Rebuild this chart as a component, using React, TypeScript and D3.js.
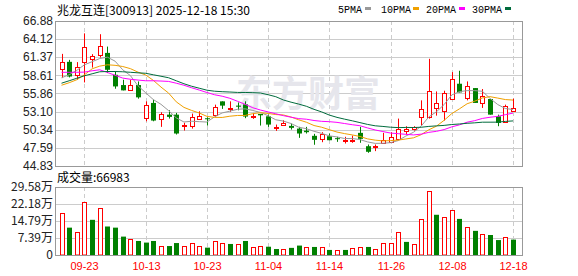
import React from 'react';
import * as d3 from 'd3';

const dates = [
  '09-18','09-19','09-22','09-23','09-24','09-25','09-26','09-29','09-30','10-09',
  '10-10','10-13','10-14','10-15','10-16','10-17','10-20','10-21','10-22','10-23',
  '10-24','10-27','10-28','10-29','10-30','10-31','11-03','11-04','11-05','11-06',
  '11-07','11-10','11-11','11-12','11-13','11-14','11-17','11-18','11-19','11-20',
  '11-21','11-24','11-25','11-26','11-27','11-28','12-01','12-02','12-03','12-04',
  '12-05','12-08','12-09','12-10','12-11','12-12','12-15','12-16','12-17','12-18',
];
const opens = [
  59.57,60.67,58.70,60.57,61.08,61.69,62.03,58.70,57.14,56.38,
  57.14,52.24,54.42,51.93,52.64,52.64,50.93,51.00,51.99,52.09,
  52.54,54.66,53.45,54.01,54.20,52.30,52.75,52.39,50.58,51.10,
  50.93,50.52,50.21,49.42,48.96,49.36,49.06,48.57,48.60,49.87,
  47.84,47.64,48.35,48.55,48.96,50.17,50.47,52.30,52.30,53.66,
  53.15,55.07,57.34,55.17,56.68,54.42,55.02,52.39,51.63,53.25,
];
const highs = [
  61.88,60.97,60.63,65.00,61.84,64.87,62.99,59.20,57.95,57.95,
  57.69,54.66,54.92,53.00,53.30,52.90,51.40,52.80,53.15,52.24,
  54.16,54.66,54.66,54.50,54.66,52.90,52.75,52.64,51.13,51.78,
  51.28,50.78,50.78,49.72,49.97,49.77,49.27,49.27,49.45,50.78,
  48.10,48.10,49.87,49.97,52.04,50.88,50.88,54.81,61.13,56.17,
  56.28,59.11,59.31,57.69,56.68,56.53,55.02,52.64,54.16,55.07,
];
const lows = [
  58.20,58.30,57.95,57.54,59.80,61.32,58.96,56.58,56.33,56.38,
  55.07,51.63,51.63,50.78,52.04,49.62,50.22,50.52,51.87,50.98,
  52.30,53.51,53.06,53.30,52.10,52.00,50.98,50.78,50.17,50.98,
  50.37,49.11,49.77,48.06,48.45,48.75,48.50,48.25,48.36,48.36,
  46.84,47.09,48.25,48.45,48.75,49.62,50.22,50.98,52.04,52.49,
  51.74,54.92,56.02,54.81,54.42,53.66,52.64,50.88,51.63,53.15,
];
const closes = [
  60.63,58.44,59.96,62.90,61.53,63.05,59.46,56.93,56.33,57.14,
  55.27,54.16,51.74,52.75,52.30,49.77,51.05,52.30,52.45,51.99,
  53.75,54.01,53.65,53.85,52.35,52.50,52.54,51.13,50.78,51.35,
  50.63,49.77,49.97,48.81,49.77,48.75,48.96,48.75,48.80,48.96,
  46.99,47.84,48.85,49.27,50.52,50.45,50.73,53.51,56.28,54.42,
  55.93,58.05,56.02,57.04,54.42,55.42,52.64,51.38,54.01,53.66,
];
// volume in 万
const volumes = [
  18.2,11.9,9.9,23.0,15.3,20.4,12.4,11.9,8.0,7.0,
  6.1,5.4,6.1,3.9,3.9,5.2,3.9,5.1,3.9,3.2,
  6.0,5.2,4.8,4.8,6.1,3.5,3.9,3.6,2.6,2.6,
  3.1,4.1,3.5,3.5,3.5,2.2,2.2,2.2,2.9,3.5,
  3.5,2.6,5.1,5.1,9.9,5.7,4.7,15.7,27.9,17.5,
  16.4,19.6,15.7,12.2,10.5,9.0,8.7,6.5,7.9,6.6983,
];
// moving-average values for days whose window starts before the visible range
const ma5Lead = [58.25, 58.70, 59.38, 60.22];
const ma10Lead = [57.11, 57.49, 57.95, 58.70, 59.61, 60.02, 60.22, 60.14, 59.96];
const ma20Lead = [59.08, 59.08, 59.08, 59.11, 59.31, 59.46, 59.05, 58.63, 58.20, 58.02,
  57.90, 57.79, 57.79, 57.75, 57.69, 57.42, 57.11, 56.73, 56.38];
const ma30Lead = [57.42, 57.79, 58.17, 58.55, 58.85, 59.16, 59.20, 59.20, 59.16, 59.08,
  59.00, 58.93, 58.70, 58.48, 58.25, 57.79, 57.34, 56.96, 56.66, 56.36,
  56.20, 56.13, 56.08, 56.02, 56.01, 55.98, 55.93, 55.67, 55.37];

const priceTickLabels = ['66.88','64.12','61.37','58.61','55.86','53.10','50.34','47.59','44.83'];
const volTickLabels = ['29.58万','22.18万','14.79万','7.39万','0'];
const xTickLabels = ['09-23','10-13','10-23','11-04','11-14','11-26','12-08','12-18'];
const maNames = ['5PMA','10PMA','20PMA','30PMA'];

const titleText = '兆龙互连[300913] 2025-12-18 15:30';
const volumeTitle = '成交量:66983';

const W = 578, H = 276;
const L = 55, R = 522;
const PT = 21, PB = 166;
const VT = 187, VB = 255;
const RED = '#ff0000';
const GREEN = '#008000';
const MA_COLORS = ['#999999', '#f0a000', '#ff00ff', '#006b3c'];
const NUM_FONT = '"Liberation Sans", Arial, sans-serif';
const CJK_FONT = '"Noto Sans CJK SC", "Liberation Sans", sans-serif';

function movingAverage(n: number, lead: number[]): number[] {
  return closes.map((_, i) => {
    if (i < n - 1) return lead[i];
    return d3.mean(closes.slice(i - n + 1, i + 1)) as number;
  });
}

export default function App() {
  const x = d3.scaleLinear().domain([0, dates.length - 1]).range([61.5, 513]);
  const pMin = +priceTickLabels[priceTickLabels.length - 1];
  const pMax = +priceTickLabels[0];
  const y = d3.scaleLinear().domain([pMin, pMax]).range([PB, PT]);
  const vMax = parseFloat(volTickLabels[0]);
  const vy = d3.scaleLinear().domain([0, vMax]).range([VB, VT]);

  const mas = [
    movingAverage(5, ma5Lead),
    movingAverage(10, ma10Lead),
    movingAverage(20, ma20Lead),
    movingAverage(30, ma30Lead),
  ];
  const line = d3.line<number>().x((_, i) => x(i)).y((d) => y(d));

  const snap = (v: number) => Math.round(v) + 0.5;
  const bodyW = 5;

  const volUp = closes.map((c, i) => (i === 0 ? c >= opens[0] : c >= closes[i - 1]));

  const legendX = [338, 381, 426, 472];
  const legendSq = [365, 413, 459, 505];

  return (
    <svg width={W} height={H} style={{ position: 'absolute', left: 0, top: 0, background: '#fff' }}>
      <rect x={0} y={0} width={W} height={H} fill="#fff" />
      {/* title */}
      <text x={57} y={14.5} fontSize={12} fontFamily={CJK_FONT} fill="#000">{titleText}</text>
      {/* legend */}
      {maNames.map((n, i) => (
        <g key={n}>
          <text x={legendX[i]} y={12.5} fontSize={10} fontFamily='"Liberation Mono", monospace' fill="#000">{n}</text>
          <rect x={legendSq[i]} y={7} width={6} height={3} fill={MA_COLORS[i]} />
        </g>
      ))}

      {/* price grid */}
      {priceTickLabels.map((t, i) => (
        <g key={t}>
          {i > 0 && i < priceTickLabels.length - 1 && (
            <line x1={L} x2={R} y1={snap(y(+t))} y2={snap(y(+t))} stroke="#cccccc" />
          )}
          <text x={53} y={y(+t)} dy="0.35em" textAnchor="end" fontSize={12} fontFamily={NUM_FONT} fill="#222">{t}</text>
        </g>
      ))}
      {/* volume grid */}
      {volTickLabels.map((t, i) => {
        const v = parseFloat(t);
        return (
          <g key={t}>
            {i > 0 && i < volTickLabels.length - 1 && (
              <line x1={L} x2={R} y1={snap(vy(v))} y2={snap(vy(v))} stroke="#cccccc" />
            )}
            <text x={53} y={vy(v)} dy="0.35em" textAnchor="end" fontSize={12} fontFamily={CJK_FONT} fill="#222">{t}</text>
          </g>
        );
      })}
      {/* vertical dashed lines + x labels */}
      {xTickLabels.map((t) => {
        const xi = snap(x(dates.indexOf(t)));
        return (
          <g key={t}>
            <line x1={xi} x2={xi} y1={PT} y2={PB} stroke="#cccccc" strokeDasharray="4,3" />
            <line x1={xi} x2={xi} y1={VT} y2={VB} stroke="#cccccc" strokeDasharray="4,3" />
            <text x={xi} y={270} textAnchor="middle" fontSize={11} fontFamily={NUM_FONT} fill={RED}>{t}</text>
          </g>
        );
      })}

      {/* watermark */}
      <text x={236} y={107} fontSize={36} fontWeight="bold" fontFamily={CJK_FONT} fill="#e6e6ec">东方财富</text>

      {/* candles */}
      {dates.map((d, i) => {
        const cx = snap(x(i));
        const up = closes[i] >= opens[i];
        const color = up ? RED : GREEN;
        const top = y(Math.max(opens[i], closes[i]));
        const bot = y(Math.min(opens[i], closes[i]));
        const bh = Math.max(1, bot - top);
        return (
          <g key={d}>
            <line x1={cx} x2={cx} y1={y(highs[i])} y2={y(lows[i])} stroke={color} />
            {up ? (
              <rect x={cx - 2} y={Math.round(top) + 0.5} width={bodyW - 1} height={Math.max(1, Math.round(bh))} fill="#fff" stroke={color} />
            ) : (
              <rect x={cx - 2.5} y={top} width={bodyW} height={bh} fill={color} />
            )}
          </g>
        );
      })}

      {/* MA lines */}
      {mas.map((m, i) => (
        <path key={i} d={line(m) as string} fill="none" stroke={MA_COLORS[i]} strokeWidth={1} />
      ))}

      {/* volume */}
      <text x={57} y={182} fontSize={12} fontFamily={CJK_FONT} fill="#000">{volumeTitle}</text>
      {volumes.map((v, i) => {
        const cx = snap(x(i));
        const top = vy(v);
        return volUp[i] ? (
          <rect key={i} x={cx - 2} y={Math.round(top) + 0.5} width={bodyW - 1} height={Math.round(VB - top) - 0.5} fill="#fff" stroke={RED} />
        ) : (
          <rect key={i} x={cx - 2.5} y={top} width={bodyW} height={VB - top} fill={GREEN} />
        );
      })}

      {/* borders */}
      <rect x={L + 0.5} y={PT + 0.5} width={R - L} height={PB - PT} fill="none" stroke="#999999" />
      <rect x={L + 0.5} y={VT + 0.5} width={R - L} height={VB - VT} fill="none" stroke="#999999" />
    </svg>
  );
}
